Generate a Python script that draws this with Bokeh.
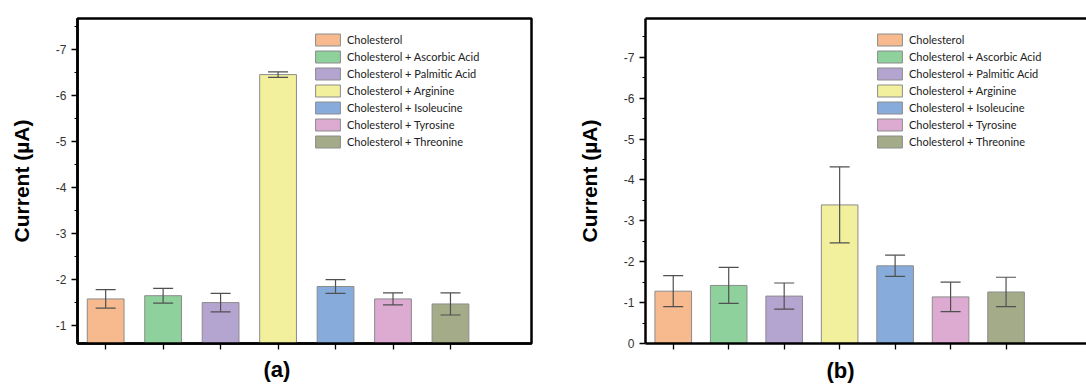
from bokeh.plotting import figure
from bokeh.models import (Range1d, FixedTicker, LinearAxis, ColumnDataSource,
                          Whisker, TeeHead, Title)
from bokeh.layouts import row
from bokeh.embed import file_html
from bokeh.resources import INLINE

labels = ["Cholesterol", "Cholesterol + Ascorbic Acid", "Cholesterol + Palmitic Acid",
          "Cholesterol + Arginine", "Cholesterol + Isoleucine", "Cholesterol + Tyrosine",
          "Cholesterol + Threonine"]
colors = ["#F6BA8E", "#8FD19C", "#B4A4D0", "#F2EF9D", "#87ACDC", "#DDAAD1", "#A4AB89"]
positions = [1, 2, 3, 4, 5, 6, 7]

current_a = [-1.58, -1.65, -1.50, -6.46, -1.85, -1.58, -1.47]
err_a = [0.20, 0.16, 0.20, 0.06, 0.15, 0.13, 0.24]
current_b = [-1.28, -1.42, -1.16, -3.39, -1.90, -1.14, -1.26]
err_b = [0.38, 0.44, 0.32, 0.93, 0.26, 0.36, 0.36]

yticks_a = [-1, -2, -3, -4, -5, -6, -7]
yminor_a = [-0.5, -1.5, -2.5, -3.5, -4.5, -5.5, -6.5, -7.5]
yticks_b = [0, -1, -2, -3, -4, -5, -6, -7]
yminor_b = [-0.5, -1.5, -2.5, -3.5, -4.5, -5.5, -6.5, -7.5]

FONT = "Liberation Sans"


def make_panel(values, errs, yticks, yminor, x_rng, y_rng, bar_w, width, borders,
               panel_label, label_offset, label_standoff, legend_loc, full_box):
    p = figure(width=width, height=388, x_range=Range1d(*x_rng), y_range=Range1d(*y_rng),
               output_backend="svg", toolbar_location=None,
               min_border_left=borders[0], min_border_right=borders[1],
               min_border_top=borders[2], min_border_bottom=borders[3])
    p.xgrid.visible = False
    p.ygrid.visible = False
    p.background_fill_color = "white"
    p.border_fill_color = "white"

    src = ColumnDataSource(dict(
        x=positions, top=values,
        upper=[v - e for v, e in zip(values, errs)],
        lower=[v + e for v, e in zip(values, errs)],
        color=colors, label=labels))
    p.vbar(x="x", top="top", bottom=0, width=bar_w, source=src, fill_color="color",
           line_color="#8C8C8C", line_width=1, legend_field="label")

    w = Whisker(base="x", upper="upper", lower="lower", source=src,
                line_color="#505050", line_width=1.2,
                upper_head=TeeHead(size=20, line_color="#505050", line_width=1.2),
                lower_head=TeeHead(size=20, line_color="#505050", line_width=1.2))
    w.level = "overlay"
    p.add_layout(w)

    ya = p.yaxis[0]
    ya.ticker = FixedTicker(ticks=yticks, minor_ticks=yminor)
    ya.major_label_overrides = {t: str(t) for t in yticks}
    ya.axis_line_width = 2.5
    ya.major_tick_in = 0
    ya.major_tick_out = 6
    ya.minor_tick_in = 0
    ya.minor_tick_out = 3
    ya.major_tick_line_width = 1.3
    ya.minor_tick_line_width = 1
    ya.major_label_text_font = FONT
    ya.major_label_text_font_size = "12px"
    ya.major_label_text_color = "#333333"
    ya.major_label_standoff = 5
    ya.axis_label = "Current (µA)"
    ya.axis_label_text_font = FONT
    ya.axis_label_text_font_style = "bold"
    ya.axis_label_text_font_size = "21px"
    ya.axis_label_text_color = "black"
    ya.axis_label_standoff = 20

    xa = p.xaxis[0]
    # category tick marks only (no tick labels): drawn as minor ticks
    xa.ticker = FixedTicker(ticks=[], minor_ticks=positions)
    xa.axis_line_width = 2.5
    xa.major_tick_in = 0
    xa.major_tick_out = 6
    xa.minor_tick_in = 0
    xa.minor_tick_out = 6
    xa.minor_tick_line_width = 1.3
    xa.major_label_standoff = 0
    xa.axis_label_standoff = 0

    p.add_layout(Title(text=panel_label, align="left", offset=label_offset,
                       standoff=label_standoff, text_font=FONT, text_font_style="bold",
                       text_font_size="22px", text_color="black"), "below")

    if full_box:
        p.outline_line_color = "black"
        p.outline_line_width = 2.5
        p.outline_line_alpha = 1
    else:
        p.outline_line_color = None
        top_axis = LinearAxis(ticker=FixedTicker(ticks=[], minor_ticks=[]),
                              major_label_standoff=0, axis_label_standoff=0,
                              axis_line_width=2.5, major_tick_line_color=None,
                              minor_tick_line_color=None)
        p.add_layout(top_axis, "above")

    lg = p.legend[0]
    lg.location = legend_loc
    lg.padding = 0
    lg.margin = 0
    lg.spacing = 2
    lg.glyph_width = 31
    lg.glyph_height = 15
    lg.label_height = 15
    lg.label_standoff = 4
    lg.label_text_font = "Lato"
    lg.label_text_font_size = "11px"
    lg.label_text_color = "#222222"
    lg.border_line_color = None
    lg.background_fill_alpha = 0
    return p


pa = make_panel(current_a, err_a, yticks_a, yminor_a, (0.51, 8.41), (-0.61, -7.68), 0.64,
                574, (77, 43, 18, 45), "(a)", 186, 10, (235, 194), True)
pb = make_panel(current_b, err_b, yticks_b, yminor_b, (0.5, 8.45), (0, -7.95), 0.66,
                512, (69, 0, 18, 45), "(b)", 181, 12, (229, 194), False)

layout = row(pa, pb)
open("out.html", "w").write(file_html(layout, INLINE))
